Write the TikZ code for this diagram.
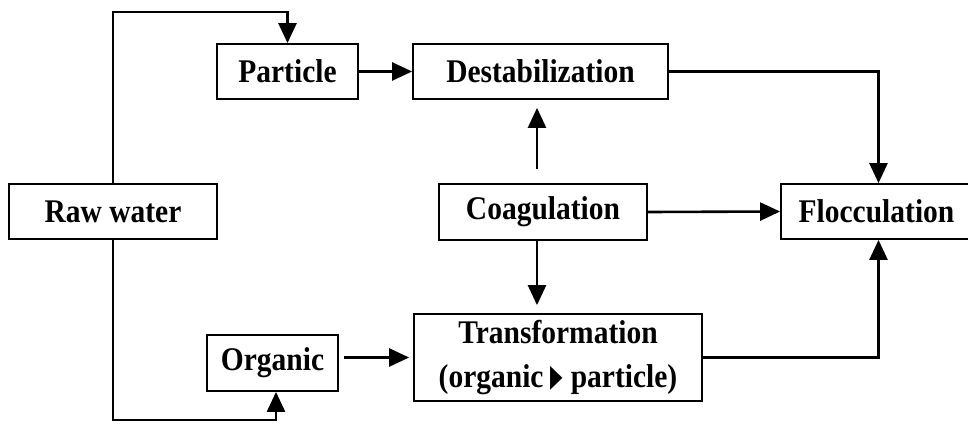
\documentclass[tikz,border=0pt]{standalone}
\usepackage{fontspec}
\setmainfont{Liberation Serif}
\newfontfamily\symfont{DejaVu Sans}
\usetikzlibrary{arrows.meta}
\newcommand{\tx}[1]{\scalebox{1}[1.12]{#1}}
\tikzset{
  box/.style={draw, line width=1.8pt, rectangle, inner sep=0pt, align=center,
    font=\fontsize{29.5}{44}\selectfont\bfseries},
  arr/.style={line width=2.6pt, -{Triangle[length=20pt,width=18pt]}},
}
\begin{document}
\begin{tikzpicture}[x=1pt,y=-1pt]
\useasboundingbox (0,0) rectangle (968,423);
\node[box, minimum width=208pt, minimum height=55pt] (raw) at (113,211.5) {\tx{Raw water}};
\node[box, minimum width=141pt, minimum height=55pt] (particle) at (287.5,71.5) {\tx{Particle}};
\node[box, minimum width=255pt, minimum height=55pt] (destab) at (540.5,71.5) {\tx{Destabilization}};
\node[box, minimum width=208pt, minimum height=56pt] (coag) at (543,212) {\tx{Coagulation}};
\node[box, minimum width=195pt, minimum height=55pt] (floc) at (878.5,211.5) {\hspace*{-4pt}\tx{Flocculation}};
\node[box, minimum width=131pt, minimum height=56pt] (organic) at (272.5,363) {\tx{Organic}};
\node[box, minimum width=288pt, minimum height=87pt] (trans) at (558,357.5)
  {\tx{Transformation}\\\tx{(organic \raisebox{1pt}{\scalebox{0.55}[0.95]{\symfont ▶}} particle)}};
\coordinate (tl) at (113,12);
\coordinate (bl) at (113,420);
\draw[arr] (raw.north) -- (tl) -| (particle.north);
\draw[arr] (raw.south) -- (bl) -| ([xshift=3.5pt]organic.south);
\draw[arr] (particle.east) -- (destab.west);
\draw[arr] (destab.east) -| (floc.north);
\draw[arr] (coag.east) -- (floc.west);
\draw[arr] ([xshift=-6pt,yshift=14pt]coag.north) -- ([xshift=-3.5pt,yshift=-8pt]destab.south);
\draw[arr] ([xshift=-6pt]coag.south) -- ([xshift=-21pt,yshift=8pt]trans.north);
\draw[arr, shorten <=5pt, shorten >=4pt] (organic.east |- trans.west) -- (trans.west);
\draw[arr] (trans.east) -| (floc.south);
\end{tikzpicture}
\end{document}
